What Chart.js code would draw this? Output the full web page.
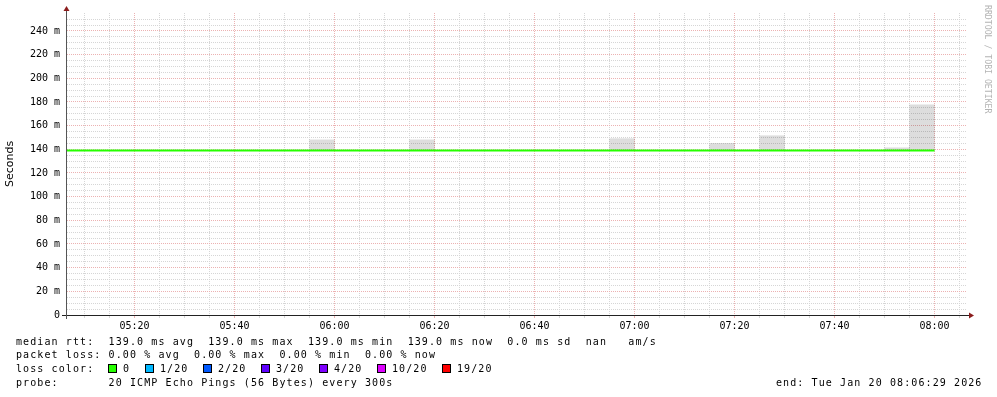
<!DOCTYPE html>
<html><head><meta charset="utf-8">
<script src="https://cdn.jsdelivr.net/npm/chart.js@4.4.1/dist/chart.umd.min.js"></script>
<style>
html,body{margin:0;padding:0;background:#fff;}
#wrap{position:relative;width:997px;height:397px;overflow:hidden;background:#fff;}
canvas{position:absolute;left:0;top:0;}
.row{position:absolute;font:10px 'DejaVu Sans Mono',monospace;letter-spacing:1.1px;white-space:pre;color:#000;line-height:14px;height:14px;}
.box{position:absolute;width:9px;height:9px;border:1px solid #000;box-sizing:border-box;}
</style></head>
<body><div id="wrap"><canvas id="c" width="997" height="397"></canvas><div id="legend"></div></div>
<script>
// ---- data ----
const slotStarts = ["05:05","05:10","05:15","05:20","05:25","05:30","05:35","05:40","05:45","05:50",
  "05:55","06:00","06:05","06:10","06:15","06:20","06:25","06:30","06:35","06:40",
  "06:45","06:50","06:55","07:00","07:05","07:10","07:15","07:20","07:25","07:30",
  "07:35","07:40","07:45","07:50","07:55"];
const slotMinutes = 5;
const medianRtt = [139,139,139,139,139,139,139,139,139,139,
  139,139,139,139,139,139,139,139,139,139,
  139,139,139,139,139,139,139,139,139,139,
  139,139,139,139,139];
const smokeLow = [139,139,139,139,139,139,139,139,139,139,
  139,139,139,139,139,139,139,139,139,139,
  139,139,139,139,139,139,139,139,139,139,
  139,139,139,139,139];
const smokeHigh = [139,139,139,139,139,139,139,139,139,139,
  148,139,139,139,148,139,139,139,139,139,
  139,139,149,139,139,139,145,139,151.5,139,
  139,139,139,141.3,177.5];
const xTickLabels = ["05:20","05:40","06:00","06:20","06:40","07:00","07:20","07:40","08:00"];
const yMajorStep = 20;
const yMinorStep = 5;
const yTopTick = 250;
const yMax = 255.2;
const endTime = "08:06:29";
const windowMinutes = 180;

const lossLabels = ["0","1/20","2/20","3/20","4/20","10/20","19/20"];
const lossColors = ["#26ff00","#00b8ff","#0059ff","#5e00ff","#7e00ff","#dd00ff","#ff0000"];
const legendRows = [
  "median rtt:  139.0 ms avg  139.0 ms max  139.0 ms min  139.0 ms now  0.0 ms sd  nan   am/s",
  "packet loss: 0.00 % avg  0.00 % max  0.00 % min  0.00 % now",
  "loss color:",
  "probe:       20 ICMP Echo Pings (56 Bytes) every 300s"
];
const endLabel = "end: Tue Jan 20 08:06:29 2026";
const yTitle = "Seconds";
const watermark = "RRDTOOL / TOBI OETIKER";

// ---- helpers ----
function toMin(s){const p=s.split(':').map(Number);return p[0]*60+p[1]+(p[2]||0)/60;}
const xMax = toMin(endTime);
const xMin = xMax - windowMinutes;
const slotX = slotStarts.map(toMin);
const tickLabelMap = {};
xTickLabels.forEach(l=>{tickLabelMap[Math.round(toMin(l))]=l;});

const lineData = slotX.map((x,i)=>({x:x,y:medianRtt[i]}));
lineData.push({x:slotX[slotX.length-1]+slotMinutes,y:medianRtt[medianRtt.length-1]});
const smokeData = slotX.map((x,i)=>({x:x+slotMinutes/2,y:[smokeLow[i],smokeHigh[i]]}));

const MINOR = '#d6d6d6';
const MAJOR = '#ecb2b2';

const decor = {
  id:'decor',
  afterDatasetsDraw(chart){
    const {ctx, chartArea:a} = chart;
    ctx.save();
    ctx.strokeStyle = '#222';
    ctx.lineWidth = 1;
    ctx.beginPath();
    ctx.moveTo(a.left-5, a.bottom+0.5); ctx.lineTo(a.right+3, a.bottom+0.5);
    ctx.stroke();
    ctx.strokeStyle = '#555';
    ctx.beginPath();
    ctx.moveTo(a.left-0.5, a.bottom+4); ctx.lineTo(a.left-0.5, a.top-4);
    ctx.stroke();
    ctx.fillStyle = '#8b1c1c';
    ctx.beginPath();
    ctx.moveTo(a.right+2, a.bottom-2.5); ctx.lineTo(a.right+7, a.bottom+0.5); ctx.lineTo(a.right+2, a.bottom+3.5); ctx.closePath();
    ctx.fill();
    ctx.beginPath();
    ctx.moveTo(a.left-3.5, a.top-2); ctx.lineTo(a.left-0.5, a.top-7); ctx.lineTo(a.left+2.5, a.top-2); ctx.closePath();
    ctx.fill();
    ctx.restore();
  },
  afterDraw(chart){
    const ctx = chart.ctx;
    ctx.save();
    ctx.translate(987, 5);
    ctx.rotate(Math.PI/2);
    ctx.font = '8.2px "DejaVu Sans Mono"';
    ctx.fillStyle = '#b4b4b4';
    ctx.textAlign = 'left';
    ctx.textBaseline = 'middle';
    ctx.fillText(watermark, 0, 0);
    ctx.restore();
  }
};

new Chart(document.getElementById('c'), {
  data:{
    datasets:[
      {type:'line', data:lineData, borderColor:'#26ff00', borderWidth:2, stepped:'after',
       pointRadius:0, fill:false, order:1},
      {type:'bar', data:smokeData, backgroundColor:'rgba(0,0,0,0.135)', borderWidth:0,
       barPercentage:1, categoryPercentage:1, order:2}
    ]
  },
  options:{
    responsive:false, animation:false, devicePixelRatio:1,
    layout:{padding:{left:0, right:30, top:13, bottom:62}},
    plugins:{legend:{display:false}, tooltip:{enabled:false}},
    scales:{
      x:{type:'linear', min:xMin, max:xMax, offset:false,
        afterBuildTicks(s){const t=[];for(let v=Math.ceil(xMin/5)*5; v<=xMax; v+=5) t.push({value:v}); s.ticks=t;},
        afterFit(s){s.height=20;},
        border:{display:false, dash:[1,1]},
        grid:{offset:false, color:c=>(c.tick && c.tick.value%20===0)?MAJOR:MINOR, lineWidth:1, drawTicks:true, tickLength:3,
              tickColor:c=>(c.tick && c.tick.value%20===0)?MAJOR:MINOR},
        ticks:{autoSkip:false, maxRotation:0, padding:2, color:'#000',
          font:{family:'DejaVu Sans Mono', size:10},
          callback:v=>tickLabelMap[Math.round(v)]||''}
      },
      y:{type:'linear', min:0, max:yMax,
        afterBuildTicks(s){const t=[];for(let v=0; v<=yTopTick; v+=yMinorStep) t.push({value:v}); s.ticks=t;},
        afterFit(s){s.width=67;},
        border:{display:false, dash:[1,1]},
        grid:{offset:false, color:c=>(c.tick && c.tick.value%yMajorStep===0)?MAJOR:MINOR, lineWidth:1, drawTicks:false},
        title:{display:true, text:yTitle, color:'#000', font:{family:'DejaVu Sans', size:11}, padding:{top:4,bottom:0}},
        ticks:{autoSkip:false, padding:7, color:'#000', font:{family:'DejaVu Sans Mono', size:10},
          callback:v=>(v%yMajorStep===0)?(v===0?'0':v+' m'):''}
      }
    }
  },
  plugins:[decor]
});

// ---- text legend ----
const lg = document.getElementById('legend');
const rowTops = [335, 348, 362, 376];
legendRows.forEach((t,i)=>{
  const d=document.createElement('div'); d.className='row'; d.style.left='16px'; d.style.top=rowTops[i]+'px';
  d.textContent=t; lg.appendChild(d);
});
const boxX = [108, 145, 203, 261, 319, 377, 442];
lossLabels.forEach((l,i)=>{
  const b=document.createElement('div'); b.className='box'; b.style.left=boxX[i]+'px'; b.style.top='364px';
  b.style.background=lossColors[i]; lg.appendChild(b);
  const t=document.createElement('div'); t.className='row'; t.style.left=(boxX[i]+15)+'px'; t.style.top=rowTops[2]+'px';
  t.textContent=l; lg.appendChild(t);
});
const e=document.createElement('div'); e.className='row'; e.style.left='776px'; e.style.top=rowTops[3]+'px';
e.textContent=endLabel; lg.appendChild(e);
</script>
</body></html>
